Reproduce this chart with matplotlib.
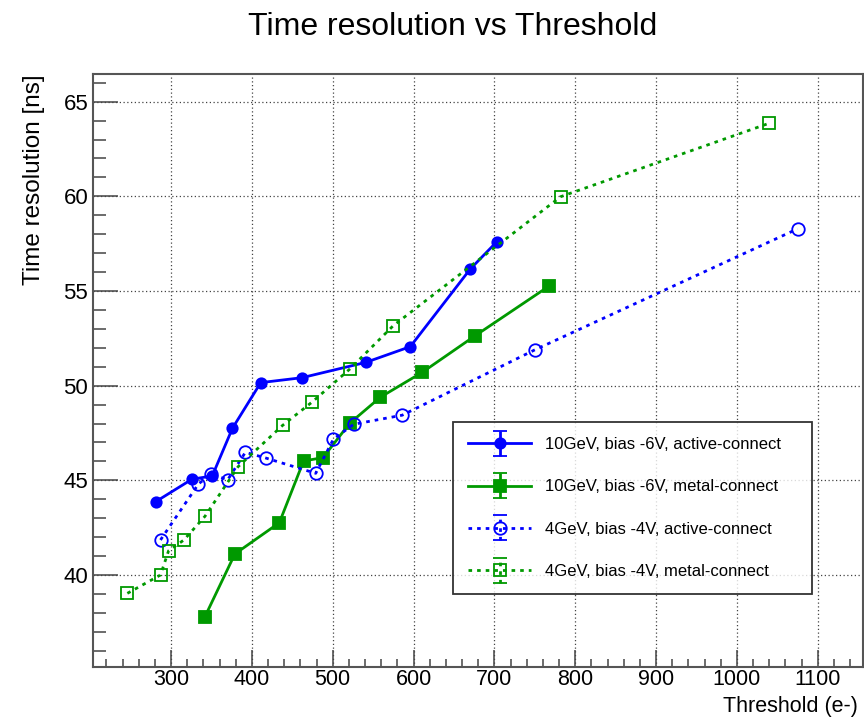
import matplotlib
matplotlib.use('Agg')
import matplotlib.pyplot as plt
import numpy as np
from matplotlib.container import ErrorbarContainer
from matplotlib.legend_handler import HandlerErrorbar
from matplotlib.ticker import MultipleLocator

plt.rcParams['font.family'] = ['Liberation Sans', 'DejaVu Sans']

# 10GeV, bias -6V, active-connect
thr_10_active = [281, 326, 351, 376, 411, 462, 541, 596, 670, 703]
res_10_active = [43.87, 45.06, 45.23, 47.75, 50.16, 50.42, 51.23, 52.06, 56.15, 57.6]

# 10GeV, bias -6V, metal-connect
thr_10_metal = [342, 379, 434, 464, 488, 521, 559, 611, 676, 768]
res_10_metal = [37.8, 41.11, 42.76, 46.02, 46.2, 48.01, 49.39, 50.71, 52.63, 55.27]

# 4GeV, bias -4V, active-connect
thr_4_active = [287, 334, 350, 370, 392, 417, 479, 501, 526, 586, 750, 1075]
res_4_active = [41.85, 44.81, 45.35, 45.02, 46.48, 46.18, 45.37, 47.18, 47.96, 48.44, 51.89, 58.28]

# 4GeV, bias -4V, metal-connect
thr_4_metal = [246, 287, 297, 316, 342, 383, 438, 475, 521, 575, 782, 1040]
res_4_metal = [39.03, 40.0, 41.28, 41.85, 43.1, 45.72, 47.9, 49.15, 50.87, 53.17, 59.98, 63.86]

labels = ['10GeV, bias -6V, active-connect',
          '10GeV, bias -6V, metal-connect',
          '4GeV, bias -4V, active-connect',
          '4GeV, bias -4V, metal-connect']

blue = '#0000ff'
green = '#009900'
dots = (0, (1.3, 1.8))

series = [
    (thr_10_active, res_10_active, blue, '-', 'o', blue, 7.5),
    (thr_10_metal, res_10_metal, green, '-', 's', green, 8),
    (thr_4_active, res_4_active, blue, dots, 'o', 'none', 9),
    (thr_4_metal, res_4_metal, green, dots, 's', 'none', 8.5),
]

fig = plt.figure(figsize=(8.64, 7.17), dpi=100)
ax = fig.add_axes([93 / 864, 50 / 717, 770 / 864, 593 / 717])

handles = []
for (x, y, c, ls, m, fc, ms), lab in zip(series, labels):
    ax.plot(x, y, color=c, linestyle=ls, linewidth=2.0, marker=m,
            markersize=ms, markerfacecolor=fc, markeredgecolor=c,
            markeredgewidth=1.3, zorder=3)
    # hidden errorbar (NaN point) just for the ROOT-like legend symbol
    h = ax.errorbar([np.nan], [np.nan], yerr=[1.0], color=c, linestyle=ls,
                    linewidth=2.0, marker=m, markersize=ms, markerfacecolor=fc,
                    markeredgecolor=c, markeredgewidth=1.3, capsize=5,
                    capthick=2.0, elinewidth=2.0, label=lab)
    if ls != '-':
        h[2][0].set_linestyle(ls)
    handles.append(h)

ax.set_xlim(203.5, 1156)
ax.set_ylim(35.14, 66.46)

ax.xaxis.set_major_locator(MultipleLocator(100))
ax.xaxis.set_minor_locator(MultipleLocator(20))
ax.yaxis.set_major_locator(MultipleLocator(5))
ax.yaxis.set_minor_locator(MultipleLocator(1))

ax.grid(True, which='major', color='#444444', linestyle=(0, (1, 2)), linewidth=0.9)
ax.set_axisbelow(True)

for sp in ax.spines.values():
    sp.set_color('#555555')
    sp.set_linewidth(1.5)

ax.tick_params(axis='both', which='both', direction='in', color='#444444',
               width=1.1, labelsize=16, top=False, right=False)
ax.tick_params(axis='y', which='major', length=18, pad=3.5)
ax.tick_params(axis='y', which='minor', length=9)
ax.tick_params(axis='x', which='major', length=12, pad=1.5, labelsize=15.5)
ax.tick_params(axis='x', which='minor', length=6)

ax.set_xlabel('Threshold (e-)', fontsize=15.5, ha='right', va='baseline')
ax.xaxis.set_label_coords(0.993, -0.0765)
ax.set_ylabel('Time resolution [ns]', fontsize=17.5, loc='top', labelpad=13)

fig.text(0.524, 0.962, 'Time resolution vs Threshold', fontsize=23,
         ha='center', va='center')

leg = ax.legend(handles=handles, loc='upper left',
                bbox_to_anchor=(0.4675, 0.413, 0.4665, 0.0), mode='expand',
                fontsize=12, frameon=True, fancybox=False, borderaxespad=0,
                borderpad=0.9, labelspacing=1.64, handlelength=3.8,
                handletextpad=0.85,
                handler_map={ErrorbarContainer: HandlerErrorbar(yerr_size=0.75)})
leg.get_frame().set_edgecolor('black')
leg.get_frame().set_linewidth(1.3)

fig.savefig('out.png', dpi=100)
